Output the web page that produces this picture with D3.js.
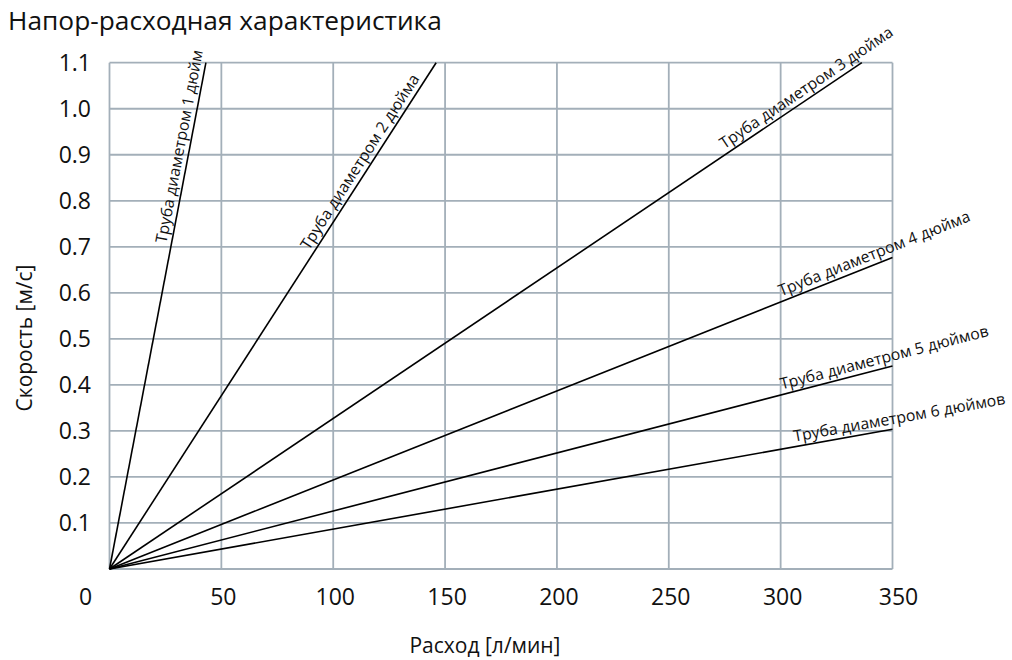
<!DOCTYPE html>
<html>
<head>
  <meta charset="utf-8">
  <title>Напор-расходная характеристика</title>
  <script src="https://cdn.jsdelivr.net/npm/d3@7"></script>
  <style>
    body { margin: 0; background: #fff; }
    text { font-family: "Open Sans", "Noto Sans", sans-serif; fill: #111; }
  </style>
</head>
<body>
  <svg width="1012" height="660" id="chart"></svg>
  <script>
    // pipe lines: all start at the origin, end where they leave the grid
    const pipeNames = [
      'Труба диаметром 1 дюйм',
      'Труба диаметром 2 дюйма',
      'Труба диаметром 3 дюйма',
      'Труба диаметром 4 дюйма',
      'Труба диаметром 5 дюймов',
      'Труба диаметром 6 дюймов'
    ];
    const endFlow = [43.1, 146, 336.3, 350, 350, 350];
    const endSpeed = [1.1, 1.1, 1.1, 0.677, 0.441, 0.3035];
    const labelFlow = [27.6, 91, 276, 301, 301, 306.6];   // where each label starts

    const xTicks = [0, 50, 100, 150, 200, 250, 300, 350];
    const yTicks = [0.1, 0.2, 0.3, 0.4, 0.5, 0.6, 0.7, 0.8, 0.9, 1.0, 1.1];

    const svg = d3.select('#chart');
    const plotLeft = 109.5, plotRight = 892.5, plotTop = 62.7, plotBottom = 569;

    const xScale = d3.scaleLinear().domain([0, 350]).range([plotLeft, plotRight]);
    const yScale = d3.scaleLinear().domain([0, 1.1]).range([plotBottom, plotTop]);

    const gridColor = '#a3afb9';

    // grid
    const grid = svg.append('g');
    grid.selectAll('.vline')
      .data(xTicks)
      .join('line')
      .attr('x1', d => xScale(d)).attr('x2', d => xScale(d))
      .attr('y1', plotTop).attr('y2', plotBottom)
      .attr('stroke', gridColor).attr('stroke-width', 1.8);
    grid.selectAll('.hline')
      .data([0].concat(yTicks))
      .join('line')
      .attr('x1', plotLeft).attr('x2', plotRight)
      .attr('y1', d => yScale(d)).attr('y2', d => yScale(d))
      .attr('stroke', gridColor).attr('stroke-width', 1.8);

    // tick labels
    svg.append('g').selectAll('text')
      .data(xTicks)
      .join('text')
      .attr('x', d => xScale(d) + (d === 0 ? -24 : d === 350 ? 6 : 2))
      .attr('y', 605)
      .attr('text-anchor', 'middle')
      .attr('font-size', 23)
      .text(d => d);

    svg.append('g').selectAll('text')
      .data(yTicks)
      .join('text')
      .attr('x', 91)
      .attr('y', d => yScale(d))
      .attr('dy', '0.35em')
      .attr('text-anchor', 'end')
      .attr('font-size', 23)
      .text(d3.format('.1f'));

    // lines
    const lineGen = d3.line().x(d => xScale(d[0])).y(d => yScale(d[1]));
    const pipes = pipeNames.map((name, i) => ({
      name: name,
      points: [[0, 0], [endFlow[i], endSpeed[i]]],
      labelAt: labelFlow[i]
    }));

    svg.append('g').selectAll('path')
      .data(pipes)
      .join('path')
      .attr('d', d => lineGen(d.points))
      .attr('fill', 'none')
      .attr('stroke', '#000')
      .attr('stroke-width', 1.6);

    // labels running along each line
    svg.append('g').selectAll('text')
      .data(pipes)
      .join('text')
      .attr('font-size', 15.8)
      .attr('transform', d => {
        const p0 = d.points[0], p1 = d.points[1];
        const sx = xScale(d.labelAt);
        const sy = yScale(p0[1] + (p1[1] - p0[1]) * (d.labelAt - p0[0]) / (p1[0] - p0[0]));
        const ang = Math.atan2(yScale(p1[1]) - yScale(p0[1]), xScale(p1[0]) - xScale(p0[0])) * 180 / Math.PI;
        return `translate(${sx},${sy}) rotate(${ang})`;
      })
      .attr('dy', -5)
      .text(d => d.name);

    // titles
    svg.append('text')
      .attr('x', 8).attr('y', 30)
      .attr('font-size', 26.3)
      .text('Напор-расходная характеристика');

    svg.append('text')
      .attr('x', 485).attr('y', 653)
      .attr('text-anchor', 'middle')
      .attr('font-size', 21)
      .text('Расход [л/мин]');

    svg.append('text')
      .attr('transform', 'translate(32,338) rotate(-90)')
      .attr('text-anchor', 'middle')
      .attr('font-size', 21)
      .text('Скорость [м/с]');
  </script>
</body>
</html>
